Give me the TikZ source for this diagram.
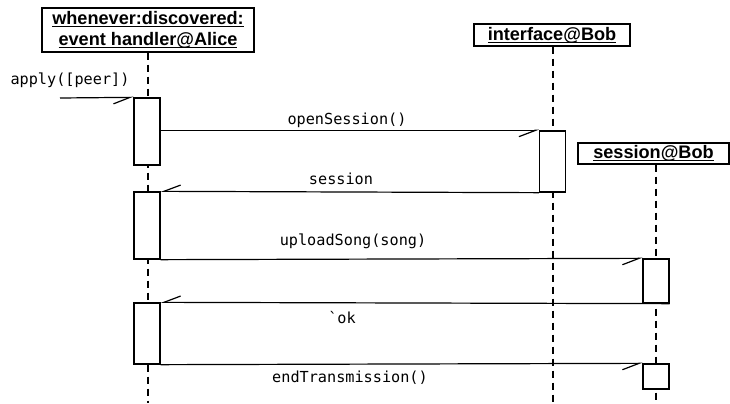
\documentclass[tikz,border=0pt]{standalone}
\usepackage{fontspec}
\setmainfont{Liberation Sans}
\setmonofont{DejaVu Sans Mono}
\usetikzlibrary{arrows.meta}

% bold text with a thin rule just under the baseline
\newsavebox\ulbox
\newcommand\ulbold[1]{\sbox\ulbox{\bfseries #1}\rlap{\rule[-2.1pt]{\wd\ulbox}{1pt}}\usebox\ulbox}

\begin{document}
\begin{tikzpicture}[
  x=0.75pt, y=-0.75pt,
  head/.style={draw, line width=1pt, fill=white, inner sep=0pt, align=center,
               font=\fontsize{13.6}{15.75}\selectfont},
  act/.style={draw, line width=1pt, fill=white, minimum width=19.5pt, inner sep=0pt},
  life/.style={line width=0.9pt, dash pattern=on 5.5pt off 3.5pt},
  msg/.style={line width=0.9pt,
              -{Straight Barb[harpoon, swap, length=12.5pt, width=9.5pt]}},
  lbl/.style={inner sep=0pt, font=\ttfamily\fontsize{11.4}{13}\selectfont}
]
\useasboundingbox (0,0) rectangle (730,403);

% object heads
\node[head, minimum width=159pt, minimum height=33pt] (hA) at (148,30)
  {\ulbold{whenever:discovered:}\\\ulbold{event handler@Alice}};
\node[head, minimum width=117pt, minimum height=16.5pt] (hI) at (552,35)
  {\ulbold{interface@Bob}};
\node[head, minimum width=113.25pt, minimum height=15.75pt] (hS) at (653.5,153.5)
  {\ulbold{session@Bob}};

% lifeline ends
\coordinate (eA) at (148,403);
\coordinate (eI) at (553,403);
\coordinate (tS) at (656,164.5);
\coordinate (eS) at (656,403);

\draw[life] (hA.south) -- (eA);
\draw[life] (hI.south -| eI) -- (eI);
\draw[life] (tS) -- (eS);

% activation bars
\node[act, minimum height=50.25pt] (a1) at (147,131.5) {};
\node[act, minimum height=50.25pt] (a2) at (147,225.5) {};
\node[act, minimum height=45.75pt] (a3) at (147,333.5) {};
\node[act, minimum height=45.75pt] (i1) at (552.5,161.5) {};
\node[act, minimum height=33pt]    (s1) at (656,281) {};
\node[act, minimum height=18.75pt] (s2) at (656,376.5) {};

% messages
\coordinate (in) at (60,98);
\draw[msg] (in) -- (a1.north west);
\draw[msg] (a1.east |- i1.north west) -- (i1.north west);
\draw[msg] (i1.south west) -- (a2.north east);
\draw[msg] (a2.south east) -- (s1.north west);
\draw[msg] (s1.south east) -- (a3.north east);
\draw[msg] (a3.south east) -- (s2.north west);

% message labels
\node[lbl] (lApply) at (70,80)   {apply([peer])};
\node[lbl] (lOpen)  at (347,120) {openSession()};
\node[lbl] (lSess)  at (341,179) {session};
\node[lbl] (lUp)    at (353,241) {uploadSong(song)};
\node[lbl] (lOk)    at (342,318) {`ok};
\node[lbl] (lEnd)   at (350,378) {endTransmission()};
\end{tikzpicture}
\end{document}
